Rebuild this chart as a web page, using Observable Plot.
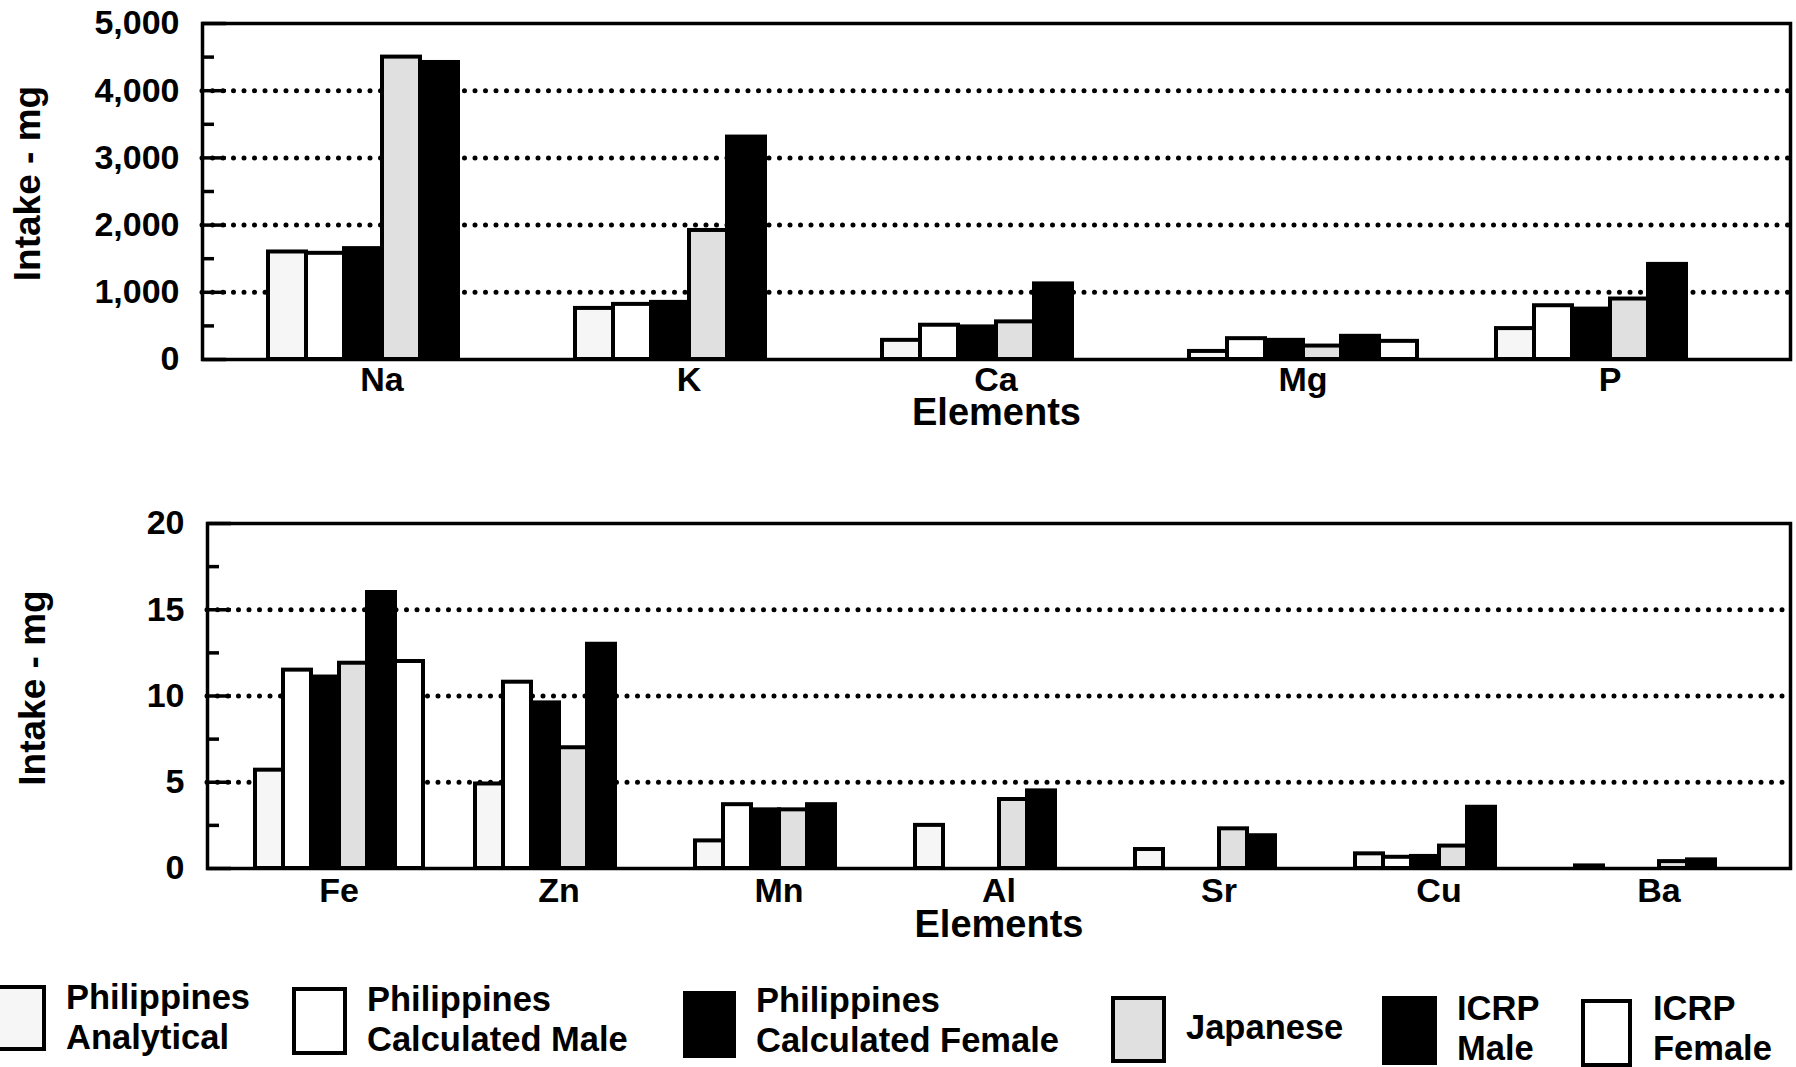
<!DOCTYPE html>
<html><head><meta charset="utf-8">
<script src="https://cdn.jsdelivr.net/npm/d3@7"></script>
<script src="https://cdn.jsdelivr.net/npm/@observablehq/plot@0.6"></script>
<style>
html,body{margin:0;padding:0;background:#fff;overflow:hidden;}
body{width:1796px;height:1067px;font-family:"Liberation Sans",Arial,sans-serif;font-weight:bold;}
.panel{position:relative;width:1796px;}
.panel svg{position:absolute;left:0;top:0;}
#legend{position:relative;width:1796px;height:127px;}
.sw{position:absolute;box-sizing:border-box;border:4px solid #000;}
.lt{position:absolute;font-size:34.5px;line-height:40px;color:#000;white-space:nowrap;}
</style></head><body>
<div id="top" class="panel" style="height:440px"></div>
<div id="bottom" class="panel" style="height:500px"></div>
<div id="legend"></div>
<script>
// ---- series ----
const seriesNames = ["Philippines Analytical", "Philippines Calculated Male", "Philippines Calculated Female", "Japanese", "ICRP Male", "ICRP Female"];
const legendLines = [["Philippines", "Analytical"], ["Philippines", "Calculated Male"], ["Philippines", "Calculated Female"], ["Japanese"], ["ICRP", "Male"], ["ICRP", "Female"]];

// ---- top panel (major elements, mg) ----
const topElements = ["Na", "K", "Ca", "Mg", "P"];
const topPhilAnalytical   = [1600, 760, 285, 120, 460];
const topPhilCalcMale     = [1580, 820, 510, 310, 800];
const topPhilCalcFemale   = [1650, 850, 485, 285, 750];
const topJapanese         = [4500, 1920, 560, 200, 900];
const topIcrpMale         = [4420, 3310, 1125, 345, 1415];
const topIcrpFemale       = [null, null, null, 270, null];
const topMajorTicks = [0, 1000, 2000, 3000, 4000, 5000];
const topMinorTicks = [500, 1500, 2500, 3500, 4500];
const topGridTicks  = [1000, 2000, 3000, 4000];

// ---- bottom panel (trace elements, mg) ----
const botElements = ["Fe", "Zn", "Mn", "Al", "Sr", "Cu", "Ba"];
const botPhilAnalytical   = [5.7, 4.9, 1.6, 2.5, 1.1, 0.85, 0.15];
const botPhilCalcMale     = [11.5, 10.8, 3.7, null, null, 0.65, null];
const botPhilCalcFemale   = [11.1, 9.6, 3.4, null, null, 0.7, null];
const botJapanese         = [11.9, 7.0, 3.4, 4.0, 2.3, 1.3, 0.4];
const botIcrpMale         = [16.0, 13.0, 3.7, 4.5, 1.9, 3.55, 0.5];
const botIcrpFemale       = [12.0, null, null, null, null, null, null];
const botMajorTicks = [0, 5, 10, 15, 20];
const botMinorTicks = [2.5, 7.5, 12.5, 17.5];
const botGridTicks  = [5, 10, 15];

// ---- styles ----
const seriesFills = ["#f6f6f6", "#ffffff", "#000000", "#e0e0e0", "#000000", "#ffffff"];
const FONT = '"Liberation Sans", Arial, sans-serif';

function rows(elements, cols) {
  const out = [];
  elements.forEach((el, i) => cols.forEach((vals, s) => {
    const v = vals[i];
    if (v != null) out.push({element: el, series: seriesNames[s], value: v});
  }));
  return out;
}

function panel(container, o) {
  const common = {width: 1796, height: o.height, marginTop: o.mTop, marginBottom: o.mBottom, marginLeft: o.mLeft, marginRight: 6};
  const base = Plot.plot({
    ...common,
    style: {background: "white", fontFamily: FONT, color: "black", overflow: "visible"},
    y: {domain: [0, o.yMax], axis: null},
    marks: [
      Plot.ruleY(o.grid, {stroke: "black", strokeWidth: 5, strokeDasharray: "0 10.5", strokeLinecap: "round"}),
      Plot.frame({stroke: "black", strokeWidth: 3.5}),
      Plot.axisY({ticks: o.major, tickSize: -24, tickFormat: () => "", strokeWidth: 3.5, label: null}),
      Plot.axisY({ticks: o.minor, tickSize: -12, tickFormat: () => "", strokeWidth: 3.5, label: null}),
      Plot.axisY({ticks: o.major, tickSize: 0, tickPadding: 23, tickFormat: o.fmt, fontSize: 34, fontWeight: "bold", label: null}),
      Plot.text(["Elements"], {text: d => d, frameAnchor: "bottom", textAnchor: "middle", dy: o.elDy, lineAnchor: "top", fontSize: 38, fontWeight: "bold"}),
      Plot.text(["Intake - mg"], {text: d => d, frameAnchor: "left", textAnchor: "middle", rotate: -90, dx: -174, dy: -8, fontSize: 37, fontWeight: "bold"})
    ]
  });
  const bars = Plot.plot({
    ...common,
    style: {background: "transparent", fontFamily: FONT, color: "black", overflow: "visible"},
    fx: {domain: o.elements, paddingInner: o.pi, paddingOuter: o.po, label: null},
    x: {domain: seriesNames, padding: 0, axis: null},
    y: {domain: [0, o.yMax], axis: null},
    color: {domain: seriesNames, range: seriesFills},
    marks: [
      Plot.axisFx({anchor: "bottom", tickSize: 0, tickPadding: o.xPad, fontSize: 34, fontWeight: "bold", label: null}),
      Plot.barY(o.data, {fx: "element", x: "series", y: "value", fill: "series", stroke: "black", strokeWidth: 4})
    ]
  });
  container.append(base, bars);
}

panel(document.getElementById("top"), {
  elements: topElements,
  data: rows(topElements, [topPhilAnalytical, topPhilCalcMale, topPhilCalcFemale, topJapanese, topIcrpMale, topIcrpFemale]),
  yMax: 5000, major: topMajorTicks, minor: topMinorTicks, grid: topGridTicks,
  fmt: d3.format(","), height: 440, mTop: 23, mBottom: 81, mLeft: 202,
  pi: 0.246, po: 0.2025, elDy: 39, xPad: 7
});

panel(document.getElementById("bottom"), {
  elements: botElements,
  data: rows(botElements, [botPhilAnalytical, botPhilCalcMale, botPhilCalcFemale, botJapanese, botIcrpMale, botIcrpFemale]),
  yMax: 20, major: botMajorTicks, minor: botMinorTicks, grid: botGridTicks,
  fmt: d3.format("d"), height: 500, mTop: 83, mBottom: 72, mLeft: 207,
  pi: 0.232, po: 0.2136, elDy: 42, xPad: 9
});

// ---- legend (HTML, below the charts) ----
const legendLayout = [
  {bx: -6,   by: 45, bw: 52, bh: 66, tx: 66,   ty: 37},
  {bx: 292,  by: 47, bw: 55, bh: 68, tx: 367,  ty: 39},
  {bx: 683,  by: 51, bw: 53, bh: 67, tx: 756,  ty: 40},
  {bx: 1111, by: 56, bw: 55, bh: 67, tx: 1186, ty: 67},
  {bx: 1382, by: 56, bw: 55, bh: 69, tx: 1457, ty: 48},
  {bx: 1581, by: 59, bw: 51, bh: 68, tx: 1653, ty: 48}
];
const legend = document.getElementById("legend");
seriesNames.forEach((name, i) => {
  const L = legendLayout[i];
  const sw = document.createElement("div");
  sw.className = "sw";
  Object.assign(sw.style, {left: L.bx + "px", top: L.by + "px", width: L.bw + "px", height: L.bh + "px", background: seriesFills[i]});
  legend.appendChild(sw);
  const t = document.createElement("div");
  t.className = "lt";
  t.style.left = L.tx + "px";
  t.style.top = L.ty + "px";
  t.innerHTML = legendLines[i].join("<br>");
  legend.appendChild(t);
});
</script></body></html>
